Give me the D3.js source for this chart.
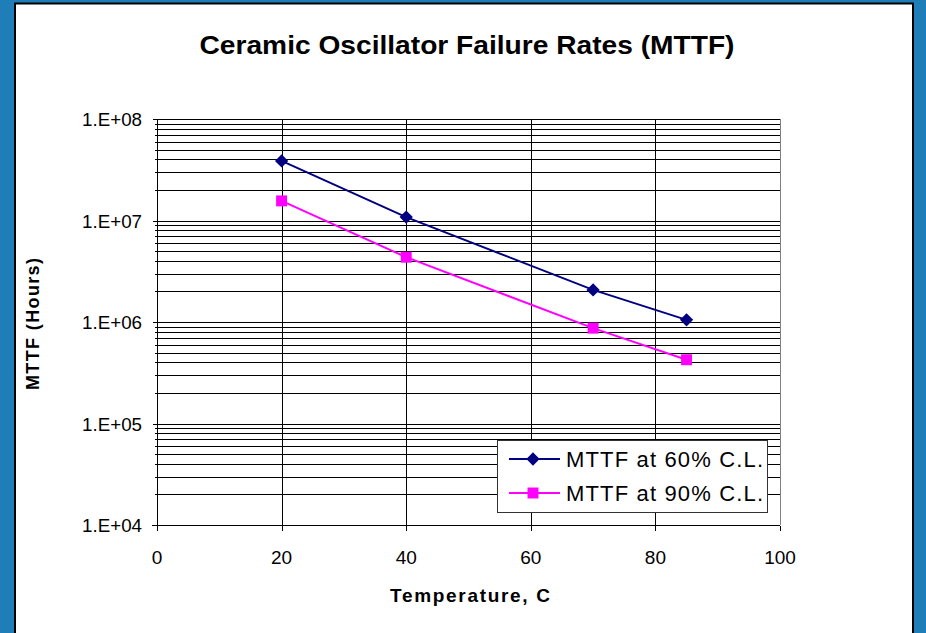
<!DOCTYPE html>
<html>
<head>
<meta charset="utf-8">
<script src="https://cdn.jsdelivr.net/npm/d3@7"></script>
<style>
html,body{margin:0;padding:0;background:#1F7DB8;}
svg{display:block;}
text{font-family:"Liberation Sans",Arial,sans-serif;fill:#000;}
</style>
</head>
<body>
<svg id="chart" width="926" height="633"></svg>
<script>
const temperatures = [20, 40, 70, 85];
const mttf60 = [3.86e7, 1.08e7, 2.07e6, 1.05e6];
const mttf90 = [1.56e7, 4.35e6, 8.7e5, 4.25e5];
const seriesNames = ["MTTF at 60% C.L.", "MTTF at 90% C.L."];
const xTicks = [0, 20, 40, 60, 80, 100];
const yTicks = [1e4, 1e5, 1e6, 1e7, 1e8];
const yTickLabels = ["1.E+04", "1.E+05", "1.E+06", "1.E+07", "1.E+08"];

const svg = d3.select("#chart");
svg.append("rect").attr("width", 926).attr("height", 633).attr("fill", "#1F7DB8");
svg.append("rect").attr("x", 15).attr("y", 3.5).attr("width", 898).attr("height", 640)
  .attr("fill", "#fff").attr("stroke", "#000").attr("stroke-width", 2);

const x = d3.scaleLinear().domain([0, 100]).range([157, 780]);
const y = d3.scaleLog().domain([1e4, 1e8]).range([525, 119]);
const cr = v => Math.round(v) + 0.5;

const minor = [];
for (let e = 4; e < 8; e++) for (let m = 2; m <= 9; m++) minor.push(m * Math.pow(10, e));

const grid = svg.append("g").attr("stroke", "#000").attr("stroke-width", 1).attr("shape-rendering", "crispEdges");
grid.selectAll("line.h").data(yTicks.concat(minor)).join("line")
  .attr("x1", x(0)).attr("x2", x(100))
  .attr("y1", d => cr(y(d))).attr("y2", d => cr(y(d)));
grid.selectAll("line.v").data(xTicks.slice(1)).join("line")
  .attr("x1", d => cr(x(d))).attr("x2", d => cr(x(d)))
  .attr("y1", y(1e8)).attr("y2", y(1e4));
grid.append("line").attr("x1", cr(x(100))).attr("x2", cr(x(100))).attr("y1", y(1e8)).attr("y2", y(1e4)).attr("stroke", "#808080");

const yAxisG = svg.append("g").attr("shape-rendering", "crispEdges").attr("stroke", "#000");
yAxisG.append("line").attr("x1", cr(x(0))).attr("x2", cr(x(0))).attr("y1", y(1e8)).attr("y2", y(1e4) + 4);
yAxisG.selectAll("line.mj").data(yTicks).join("line")
  .attr("x1", cr(x(0)) - 5).attr("x2", cr(x(0)) + 3)
  .attr("y1", d => cr(y(d))).attr("y2", d => cr(y(d)));
yAxisG.selectAll("line.mn").data(minor).join("line")
  .attr("x1", cr(x(0)) - 3).attr("x2", cr(x(0)) + 3)
  .attr("y1", d => cr(y(d))).attr("y2", d => cr(y(d)));
const xAxisG = svg.append("g").attr("shape-rendering", "crispEdges").attr("stroke", "#000");
xAxisG.append("line").attr("x1", x(0) - 5).attr("x2", x(100)).attr("y1", cr(y(1e4))).attr("y2", cr(y(1e4)));
xAxisG.selectAll("line.t").data(xTicks).join("line")
  .attr("x1", d => cr(x(d))).attr("x2", d => cr(x(d)))
  .attr("y1", cr(y(1e4))).attr("y2", cr(y(1e4)) + 5);

svg.append("g").selectAll("text").data(yTicks).join("text")
  .attr("x", 142).attr("y", d => y(d) + 7)
  .attr("text-anchor", "end").attr("font-size", 19)
  .attr("textLength", 60).attr("lengthAdjust", "spacingAndGlyphs")
  .text((d, i) => yTickLabels[i]);
svg.append("g").selectAll("text").data(xTicks).join("text")
  .attr("x", d => x(d)).attr("y", 564)
  .attr("text-anchor", "middle").attr("font-size", 19)
  .text(d => d);

svg.append("text").attr("x", 467).attr("y", 54).attr("text-anchor", "middle")
  .attr("font-size", 25).attr("font-weight", "bold")
  .attr("textLength", 535).attr("lengthAdjust", "spacingAndGlyphs")
  .text("Ceramic Oscillator Failure Rates (MTTF)");
svg.append("text").attr("x", 470).attr("y", 602).attr("text-anchor", "middle")
  .attr("font-size", 19).attr("font-weight", "bold")
  .attr("textLength", 160).attr("lengthAdjust", "spacing")
  .text("Temperature, C");
svg.append("text").attr("transform", "translate(39,324) rotate(-90)").attr("text-anchor", "middle")
  .attr("font-size", 18).attr("font-weight", "bold")
  .attr("textLength", 132).attr("lengthAdjust", "spacing")
  .text("MTTF (Hours)");

const diamond = d3.symbol().type(d3.symbolSquare).size(88);
const square = d3.symbol().type(d3.symbolSquare).size(120);
const series = [
  {name: seriesNames[0], values: mttf60, color: "#000080", sym: diamond, rot: 45},
  {name: seriesNames[1], values: mttf90, color: "#FF00FF", sym: square, rot: 0}
];
const line = d3.line().x(d => x(d[0])).y(d => y(d[1]));
series.forEach(s => {
  const pts = temperatures.map((t, i) => [t, s.values[i]]);
  svg.append("path").datum(pts).attr("d", line).attr("fill", "none")
    .attr("stroke", s.color).attr("stroke-width", 2);
  svg.append("g").selectAll("path").data(pts).join("path")
    .attr("transform", d => `translate(${x(d[0])},${y(d[1])}) rotate(${s.rot})`)
    .attr("d", s.sym())
    .attr("fill", s.color);
});

const lg = svg.append("g");
lg.append("rect").attr("x", 497.5).attr("y", 440.5).attr("width", 270).attr("height", 72)
  .attr("fill", "#fff").attr("stroke", "#333").attr("stroke-width", 1);
series.forEach((s, i) => {
  const yy = 459 + i * 34;
  lg.append("line").attr("x1", 509).attr("x2", 560).attr("y1", yy).attr("y2", yy)
    .attr("stroke", s.color).attr("stroke-width", 2);
  lg.append("path").attr("transform", `translate(533,${yy}) rotate(${s.rot})`)
    .attr("d", s.sym()).attr("fill", s.color);
  lg.append("text").attr("x", 566).attr("y", yy + 8).attr("font-size", 22)
    .attr("textLength", 197).attr("lengthAdjust", "spacing")
    .text(s.name);
});
</script>
</body>
</html>
